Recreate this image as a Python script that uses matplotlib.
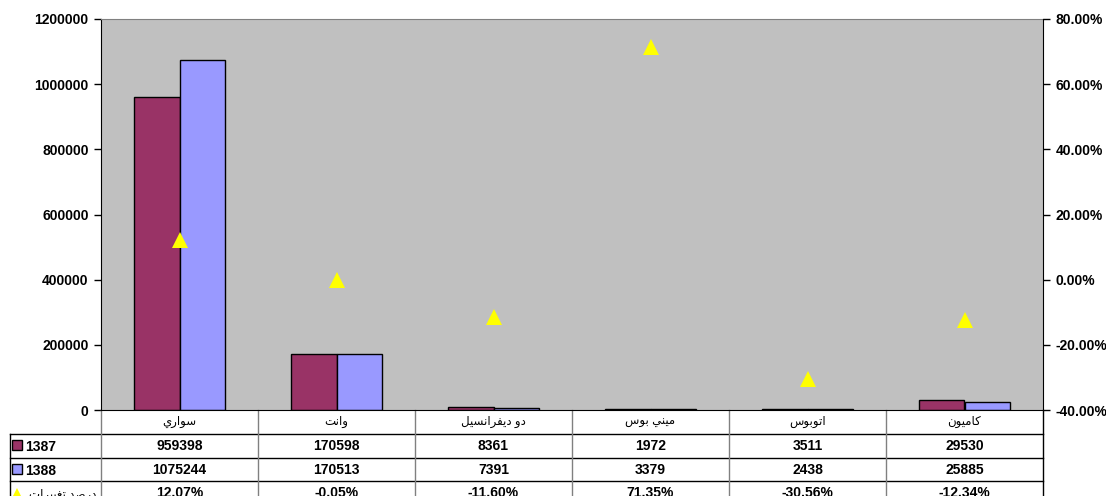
import numpy as np
import matplotlib.pyplot as plt
from matplotlib.patches import Rectangle
from matplotlib.ticker import FuncFormatter

#-------------------------------------------------------------------------------------------------

plt.rcParams['font.family'] = ['Liberation Sans', 'DejaVu Sans']
plt.rcParams['font.weight'] = 'bold'

# arabic labels written in presentation forms, in visual (left to right) order
categories = ["\ufef1\ufead\ufe8d\ufeee\ufeb3",                        # سواري
              "\ufe96\ufee7\ufe8d\ufeed",                              # وانت
              "\ufede\ufef4\ufeb4\ufee7\ufe8d\ufeae\ufed4\ufef3\ufea9 \ufeed\ufea9",  # دو ديفرانسيل
              "\ufeb1\ufeee\ufe91 \ufef2\ufee8\ufef4\ufee3",           # ميني بوس
              "\ufeb1\ufeee\ufe91\ufeee\ufe97\ufe8d",                  # اتوبوس
              "\ufee5\ufeee\ufef4\ufee3\ufe8e\ufedb"]                  # كاميون
changeLabel = "\ufe95\ufe8d\ufeae\ufef4\ufef4\ufed0\ufe97 \ufeaa\ufebb\ufead\ufea9"  # درصد تغييرات

v1387 = [959398, 170598, 8361, 1972, 3511, 29530]
v1388 = [1075244, 170513, 7391, 3379, 2438, 25885]
pctChange = [12.07, -0.05, -11.60, 71.35, -30.56, -12.34]

c1387 = '#993366'
c1388 = '#9999FF'
cTri = '#FFFF00'

#-------------------------------------------------------------------------------------------------

W, H = 1106, 496
fig = plt.figure(figsize=(W/100, H/100), dpi=100)
ax = fig.add_axes([101/W, 1-410/H, 942/W, 391/H])
ax.set_facecolor('#C0C0C0')

x = np.arange(len(categories))
bw = 0.287
ax.bar(x - bw/2, v1387, bw, color=c1387, edgecolor='black', linewidth=1)
ax.bar(x + bw/2, v1388, bw, color=c1388, edgecolor='black', linewidth=1)
ax.set_xlim(-0.5, 5.5)
ax.set_ylim(0, 1200000)
ax.set_yticks(np.arange(0, 1200001, 200000))
ax.yaxis.set_major_formatter(FuncFormatter(lambda v, p: "%d" % v))
ax.set_xticks([])
ax.tick_params(axis='y', direction='out', length=5, width=1, labelsize=10, pad=4)
ax.spines['top'].set_color('#808080')
ax.spines['right'].set_visible(False)

ax2 = ax.twinx()
ax2.plot(x, np.array(pctChange)/100, '^', color=cTri, markersize=12, markeredgewidth=0, linestyle='none')
ax2.set_ylim(-0.4, 0.8)
ax2.set_yticks(np.arange(-0.4, 0.81, 0.2))
ax2.yaxis.set_major_formatter(FuncFormatter(lambda v, p: "%.2f%%" % (v*100)))
ax2.tick_params(axis='y', direction='out', length=5, width=1, labelsize=10, pad=4)
for s in ['top', 'left', 'bottom']:
	ax2.spines[s].set_visible(False)

#----------------------------------------------
# data table under the plot

tr = ax.get_xaxis_transform()
px = 1/391.0
xl = -0.5 - 91/157.0
rows = [-23.5*px, -47.5*px, -71*px, -95*px]

def hline(y, x0, x1, c='black'):
	ax.plot([x0, x1], [y, y], color=c, lw=1, transform=tr, clip_on=False)

def vline(xx, y0, y1, c='#808080'):
	ax.plot([xx, xx], [y0, y1], color=c, lw=1, transform=tr, clip_on=False)

for r in rows[:3]:
	hline(r, xl, 5.5)
for k in range(6):
	vline(k - 0.5, 0, rows[3])
vline(5.5, 0, rows[3], 'black')
vline(xl, rows[0], rows[3], 'black')

for i in range(len(categories)):
	ax.text(i, -12*px, categories[i], transform=tr, ha='center', va='center', fontsize=8.5, fontweight='normal')
	ax.text(i, -35.5*px, str(v1387[i]), transform=tr, ha='center', va='center', fontsize=10)
	ax.text(i, -59.5*px, str(v1388[i]), transform=tr, ha='center', va='center', fontsize=10)
	ax.text(i, -82.5*px, "%.2f%%" % pctChange[i], transform=tr, ha='center', va='center', fontsize=10)

kx = xl + 2/157.0
kw = 10/157.0
ax.add_patch(Rectangle((kx, -40*px), kw, 10*px, facecolor=c1387, edgecolor='black', lw=1, transform=tr, clip_on=False))
ax.add_patch(Rectangle((kx, -64*px), kw, 10*px, facecolor=c1388, edgecolor='black', lw=1, transform=tr, clip_on=False))
ax.plot([kx + 5/157.0], [-86*px], '^', color=cTri, markersize=11, markeredgewidth=0, transform=tr, clip_on=False)
ax.text(kx + 13/157.0, -36.5*px, '1387', transform=tr, ha='left', va='center', fontsize=10)
ax.text(kx + 13/157.0, -60.5*px, '1388', transform=tr, ha='left', va='center', fontsize=10)
ax.text(kx + 17/157.0, -85*px, changeLabel, transform=tr, ha='left', va='center', fontsize=8.5, fontweight='normal')

#-------------------------------------------------------------------------------------------------

fig.savefig('out.png', dpi=100)
